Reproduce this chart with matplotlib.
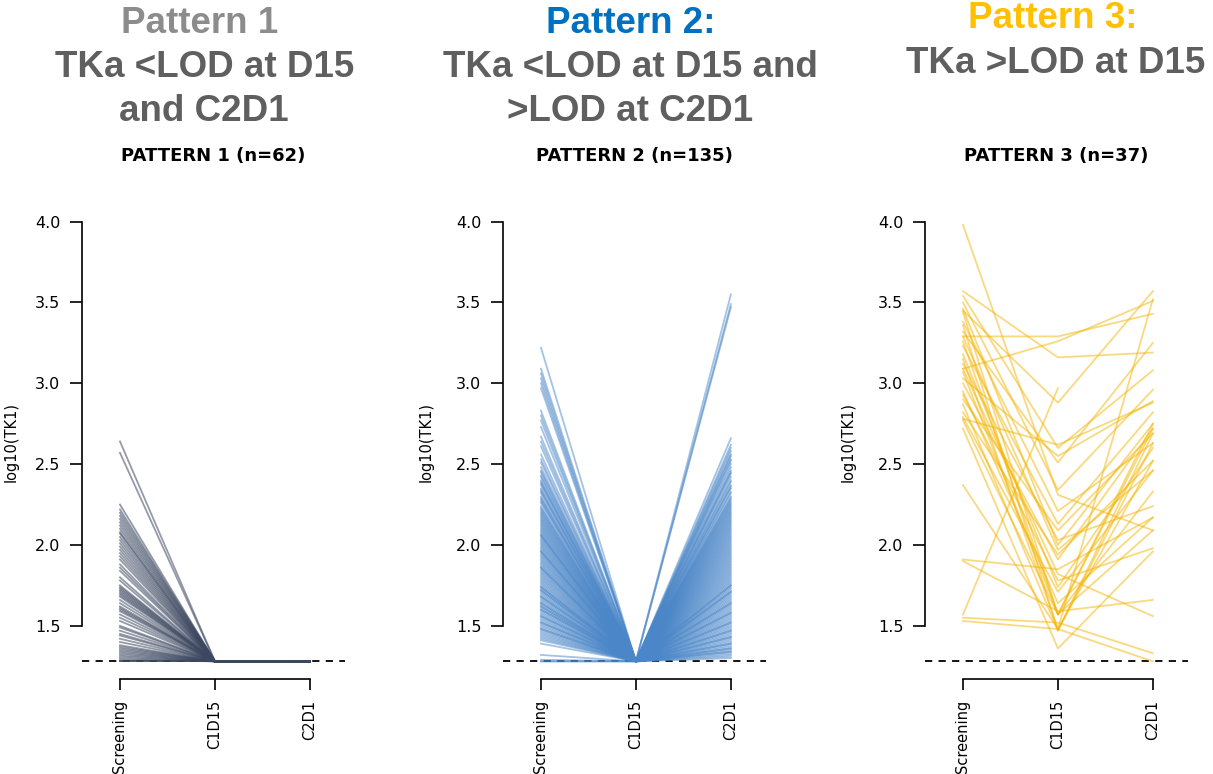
import numpy as np
import matplotlib.pyplot as plt

# lower limit of detection of TK1 (log10 scale)
LOD = 1.28
timepoints = ["Screening", "C1D15", "C2D1"]

# Pattern 1: measurable at screening, <LOD at C1D15 and C2D1
p1_screening = [2.64, 2.57, 2.25, 2.22, 2.20, 2.18, 2.16, 2.14, 2.12, 2.10,
                2.08, 2.07, 2.05, 2.03, 2.01, 1.99, 1.97, 1.95, 1.93, 1.91,
                1.88, 1.86, 1.84, 1.80, 1.78, 1.75, 1.74, 1.73, 1.72, 1.71,
                1.70, 1.69, 1.68, 1.66, 1.64, 1.62, 1.61, 1.60, 1.59, 1.57,
                1.55, 1.53, 1.50, 1.49, 1.47, 1.45, 1.44, 1.42, 1.40, 1.38,
                1.37, 1.36, 1.35, 1.34, 1.33, 1.32, 1.31, 1.30, 1.29, 1.28,
                1.28, 1.28]

# Pattern 2: <LOD at C1D15, back above LOD at C2D1
p2_screening = [3.22, 3.09, 3.06, 3.03, 3.00, 2.97, 2.83, 2.80, 2.77, 2.73,
                2.67, 2.64, 2.61, 2.56, 2.53, 2.51, 2.48, 2.45,
                2.43, 2.42, 2.40, 2.38, 2.37, 2.35, 2.33, 2.32, 2.30, 2.29,
                2.27, 2.26, 2.24, 2.23, 2.21, 2.20, 2.19, 2.17, 2.16, 2.14,
                2.13, 2.12, 2.10, 2.09, 2.08, 2.06, 2.05, 2.04, 2.02, 2.01,
                2.00, 1.98, 1.97, 1.96, 1.95, 1.93, 1.92, 1.91, 1.90, 1.88,
                1.87, 1.86, 1.85, 1.84, 1.82, 1.81, 1.80, 1.79, 1.78, 1.76,
                1.75, 1.74, 1.73, 1.72, 1.71, 1.70, 1.69, 1.68, 1.67, 1.66,
                1.65, 1.64, 1.63, 1.62, 1.61, 1.60, 1.59, 1.58, 1.57, 1.56,
                1.55, 1.54, 1.53, 1.52, 1.51, 1.50, 1.49, 1.48, 1.47, 1.46,
                1.45, 1.44, 1.43, 1.42, 1.41, 1.39, 1.32, 1.29, 1.28, 1.28,
                2.22, 2.18, 2.15, 2.11, 2.07, 2.03, 1.99, 1.94, 1.89, 1.83,
                1.77, 1.72, 1.68, 1.64, 1.60, 1.56, 1.52, 1.48, 2.28, 2.34,
                2.39, 2.46, 1.86, 1.96, 2.06, 1.74, 1.62]
p2_c2d1 = [3.55, 3.49, 3.47,
           2.66, 2.62, 2.60, 2.58, 2.56, 2.55, 2.53, 2.52, 2.50, 2.48,
           2.46, 2.45, 2.44, 2.42, 2.40, 2.39, 2.37, 2.36, 2.35, 2.33,
           2.32, 2.30, 2.29, 2.28, 2.26, 2.25, 2.24, 2.22, 2.21, 2.20,
           2.19, 2.17, 2.16, 2.15, 2.13, 2.12, 2.11, 2.10, 2.08, 2.07,
           2.06, 2.05, 2.04, 2.02, 2.01, 2.00, 1.99, 1.98, 1.96, 1.95,
           1.94, 1.93, 1.92, 1.91, 1.89, 1.88, 1.87, 1.86, 1.85, 1.84,
           1.83, 1.82, 1.80, 1.79, 1.78, 1.77, 1.76, 1.75, 1.74, 1.73,
           1.72, 1.71, 1.70, 1.69, 1.68, 1.67, 1.66, 1.65, 1.64, 1.63,
           1.62, 1.61, 1.60, 1.59, 1.58, 1.57, 1.56, 1.55, 1.54, 1.53,
           1.52, 1.51, 1.50, 1.49, 1.48, 1.47, 1.46, 1.45, 1.44, 1.43,
           1.42, 1.41, 1.40, 1.39, 1.38, 1.37, 1.36, 1.35, 1.34, 1.33,
           1.32, 1.31, 1.30,
           2.23, 2.14, 2.03, 1.97, 1.90, 1.81, 1.71, 1.64, 1.58, 1.52,
           1.47, 1.43, 1.39, 1.36, 1.34, 2.09, 2.18, 2.27, 1.75]

# Pattern 3: still >LOD at C1D15 (nan = no C2D1 sample)
p3_screening = [3.98, 3.57, 3.45, 3.29, 3.09, 2.78, 1.57, 1.91, 1.90, 2.37,
                1.55, 1.53, 3.54, 3.50, 3.44, 3.38, 3.36, 3.32, 3.29, 3.26,
                3.23, 3.18, 3.15, 3.12, 3.07, 3.03, 3.00, 2.95, 2.93, 2.90,
                2.87, 2.82, 2.79, 2.72, 3.46, 3.09, 2.77]
p3_c1d15 = [2.31, 3.16, 2.88, 3.29, 3.26, 2.62, 2.97, 1.85, 1.59, 1.48,
            1.52, 1.48, 2.60, 2.34, 1.57, 2.21, 1.47, 2.51, 1.97, 1.57,
            2.13, 1.74, 1.48, 2.03, 1.57, 2.55, 1.91, 1.64, 1.78, 2.09,
            1.47, 1.94, 1.71, 1.36, 2.00, 1.82, 1.57]
p3_c2d1 = [2.09, 3.19, 3.57, 3.43, 3.51, 2.88, np.nan, 2.17, 1.66, 2.52,
           1.33, 1.28, 3.08, 2.96, 2.75, 2.63, 2.69, 3.25, 2.46, 2.72,
           2.82, 2.60, 3.52, 2.24, 2.33, 2.89, 2.72, 2.17, 1.98, 2.69,
           2.63, 2.52, 2.46, 1.96, 2.75, 1.56, 2.09]

assert len(p1_screening) == 62
assert len(p2_screening) == len(p2_c2d1) == 135
assert len(p3_screening) == len(p3_c1d15) == len(p3_c2d1) == 37

n1, n2 = len(p1_screening), len(p2_screening)
pattern1 = np.column_stack([p1_screening, np.full(n1, LOD), np.full(n1, LOD)])
pattern2 = np.column_stack([p2_screening, np.full(n2, LOD), p2_c2d1])
pattern3 = np.column_stack([p3_screening, p3_c1d15, p3_c2d1])

# data, line colour, alpha, panel title, left edge of the axes in pixels
panels = [
    (pattern1, "#3c4860", 0.55, "PATTERN 1 (n=62)", 82),
    (pattern2, "#4a86c8", 0.5, "PATTERN 2 (n=135)", 503),
    (pattern3, "#f4b400", 0.5, "PATTERN 3 (n=37)", 925),
]

W, H = 1213, 774
fig = plt.figure(figsize=(W / 100, H / 100), dpi=100)
plt.rcParams["font.family"] = "DejaVu Sans"

x = np.arange(1, 4)
for i, (data, color, alpha, title, left_px) in enumerate(panels):
    ax = fig.add_axes([left_px / W, (H - 679) / H, 263 / W, 475 / H])
    ax.axhline(LOD, color="black", lw=1.3, ls=(0, (4, 3.5)), zorder=1)
    ax.plot(x, data.T, color=color, alpha=alpha, lw=1.3, zorder=2)

    ax.set_xlim(0.6, 3.37)
    ax.set_ylim(1.171, 4.109)
    for side in ("top", "right"):
        ax.spines[side].set_visible(False)
    ax.spines["left"].set_bounds(1.5, 4.0)
    ax.spines["bottom"].set_bounds(1, 3)
    for side in ("left", "bottom"):
        ax.spines[side].set_linewidth(1.2)

    ax.set_yticks([1.5, 2.0, 2.5, 3.0, 3.5, 4.0])
    ax.set_yticklabels(["1.5", "2.0", "2.5", "3.0", "3.5", "4.0"])
    ax.set_xticks(x)
    ax.set_xticklabels(timepoints, rotation=90)
    ax.tick_params(axis="both", direction="out", width=1.2)
    ax.tick_params(axis="y", length=8.5, pad=7, labelsize=11.5)
    ax.tick_params(axis="x", length=8, pad=7, labelsize=10.5)

    # first label sits right at the figure edge, nudge it inside
    label_x = -0.27 if i == 0 else -0.293
    ax.text(label_x, 0.5, "log10(TK1)", transform=ax.transAxes, rotation=90,
            ha="center", va="center", fontsize=10.5)
    ax.set_title(title, fontsize=13, fontweight="bold", pad=31)

# slide headers above each panel
header_font = dict(ha="center", va="baseline", fontsize=26.5,
                   fontweight="bold", family="Liberation Sans")
body_grey = "#5f5f5f"
headers = [
    ("Pattern 1 ", 205, 33, "#8c8c8c"),
    ("TKa <LOD at D15", 205, 77, body_grey),
    ("and C2D1", 204, 121, body_grey),
    ("Pattern 2:", 631, 33, "#0070c0"),
    ("TKa <LOD at D15 and", 630, 77, body_grey),
    (">LOD at C2D1", 630, 121, body_grey),
    ("Pattern 3:", 1053, 28, "#ffc000"),
    ("TKa >LOD at D15", 1056, 73, body_grey),
]
for text, cx, base, color in headers:
    fig.text(cx / W, 1 - base / H, text, color=color, **header_font)

fig.savefig("out.png", dpi=100)
